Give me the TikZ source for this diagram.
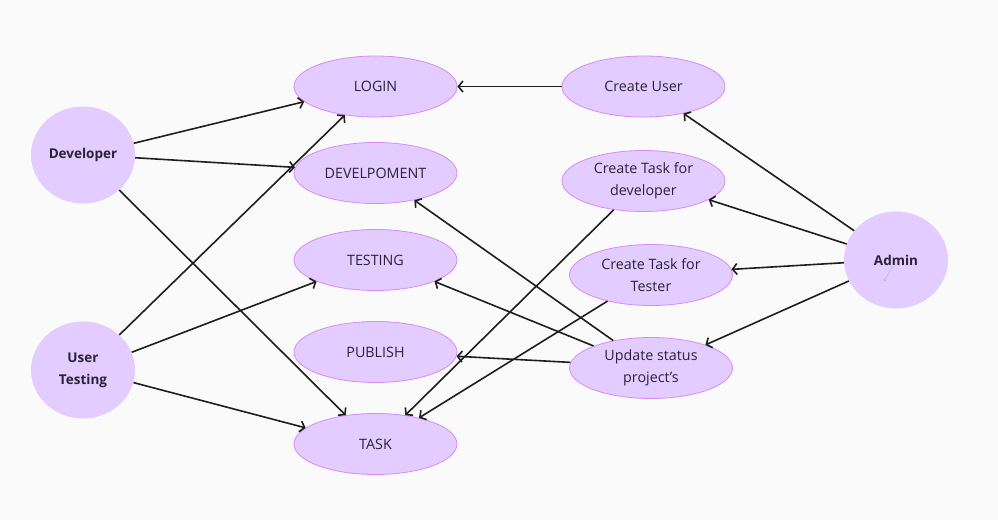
\documentclass[tikz,border=0pt]{standalone}
\usepackage{fontspec}
\setmainfont{Open Sans}
\usetikzlibrary{shapes.geometric,arrows.meta}
\definecolor{bg}{HTML}{FAFAFA}
\definecolor{ufill}{HTML}{E3CCFF}
\definecolor{uedge}{HTML}{D88AF5}
\definecolor{txt}{HTML}{2B2235}
\definecolor{lnk}{HTML}{1E1E1E}
\tikzset{
  usecase/.style={ellipse, draw=uedge, line width=0.8pt, fill=ufill, minimum width=163pt, minimum height=61pt, inner sep=0pt, text=txt, align=center, font=\fontsize{14.3}{22}\selectfont},
  actor/.style={ellipse, fill=ufill, minimum width=104pt, minimum height=97pt, inner sep=0pt, text=txt, align=center, font=\fontsize{13.5}{22}\selectfont\bfseries},
  link/.style={draw=lnk, line width=1.6pt, -{Straight Barb[length=4.5pt,width=11pt]}},
}
\begin{document}
\begin{tikzpicture}[x=1pt,y=-1pt]
\fill[bg] (0,0) rectangle (998,520);
\useasboundingbox (0,0) rectangle (998,520);
% actors
\node[actor] (dev) at (83,155) {Developer};
\node[actor] (ut) at (83,370) {User\\Testing};
\node[actor] (admin) at (896,260) {Admin};
% left use cases
\node[usecase] (login) at (375.5,86.5) {LOGIN};
\node[usecase] (devel) at (375.5,173) {DEVELPOMENT};
\node[usecase] (testing) at (375.5,260) {TESTING};
\node[usecase] (publish) at (375.5,352) {PUBLISH};
\node[usecase] (task) at (375.5,444) {TASK};
% right use cases
\node[usecase] (cuser) at (643.5,86.5) {Create User};
\node[usecase] (ctdev) at (643.5,181) {Create Task for\\developer};
\node[usecase] (cttest) at (651,275) {Create Task for\\Tester};
\node[usecase] (upd) at (651,368) {Update status\\project’s};
% connectors
\draw[link] (dev.13) -- (login.192);
\draw[link] (dev.-3) -- (devel.176);
\draw[link] (dev.-44) -- (task.136.5);
\draw[link] (ut.44) -- (login.223);
\draw[link] (ut.20) -- (testing.200);
\draw[link] (ut.-14) -- (task.167);
\draw[link] (cuser.west) -- (login.east);
\draw[link] (admin.145) -- (cuser.-34);
\draw[link] (admin.162) -- (ctdev.-16);
\draw[link] (admin.183) -- (cttest.4);
\draw[link] (admin.204) -- (upd.23.6);
\draw[link] (ctdev.224.5) -- (task.44.5);
\draw[link] (cttest.211) -- (task.31.5);
\draw[link] (upd.144) -- (devel.-35);
\draw[link] (upd.159) -- (testing.-20);
\draw[link] (upd.176.5) -- (publish.-3.5);
% faint stray mark inside Admin
\coordinate (s1) at (893,266);
\coordinate (s2) at (884,281);
\draw[gray!60, line width=0.4pt, -{Straight Barb[length=1.5pt,width=3pt]}] (s1) -- (s2);
\end{tikzpicture}
\end{document}
